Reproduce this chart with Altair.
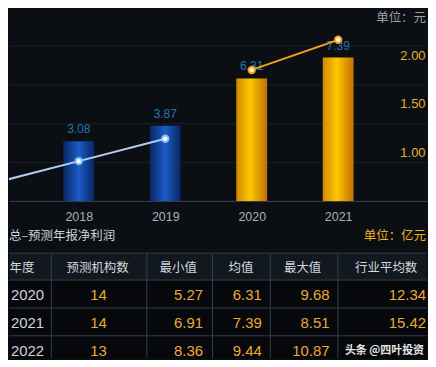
import altair as alt
import pandas as pd

# ---------------- data ----------------
years = [2017, 2018, 2019, 2020, 2021]
net_profit = [2.10, 3.08, 3.87, 6.31, 7.39]      # 亿元 (bars)
eps = [0.68, 0.91, 1.14, 1.85, 2.16]             # 元 (line)
period = ["实际", "实际", "实际", "预测", "预测"]
axis_years = [2018, 2019, 2020, 2021]
eps_ticks = [1.00, 1.50, 2.00]
profit_grid = [2, 4, 6, 8]

chart_unit = ["单位：元"]
table_title = ["总–预测年报净利润"]
table_unit = ["单位：亿元"]
header = ["年度", "预测机构数", "最小值", "均值", "最大值", "行业平均数"]
t_year = ["2020", "2021", "2022"]
t_count = [14, 14, 13]
t_min = [5.27, 6.91, 8.36]
t_mean = [6.31, 7.39, 9.44]
t_max = [9.68, 8.51, 10.87]
t_industry = [12.34, 15.42, None]
watermark = ["头条 @四叶投资"]

# ---------------- layout ----------------
W, H1, H2 = 420, 193, 158
X_DOMAIN = [2017.2506, 2021.9697]
PROFIT_DOMAIN = [0, 9.897]
EPS_DOMAIN = [0.5, 2.4795]
ROW_EDGES = [52.5, 79.5, 107.5, 135.5]
BODY_END = H2
COL_EDGES = [42.5, 138.5, 204.5, 262.5, 330.5]
HEADER_X = [13, 89, 170, 233, 295, 379]
YEAR_X = 2
COUNT_X = 90
NUM_RIGHT_X = [195, 254, 322, 419]
HEADER_Y = 67
ROW_Y = [94.5, 122.5, 150.5]

FONT = "Liberation Sans, Noto Sans CJK SC, sans-serif"
CJK = "Noto Sans CJK SC, sans-serif"
BG = "#0b0f14"
GOLD_TXT = "#eaa835"

# ---------------- panel 1 : bars + line ----------------
df = pd.DataFrame({"year": years, "profit": net_profit, "eps": eps, "period": period})
base = alt.Chart(df)

xenc = alt.X(
    "year:Q",
    scale=alt.Scale(domain=X_DOMAIN, nice=False, zero=False),
    axis=alt.Axis(values=axis_years, format="d", grid=False, ticks=False,
                  domainColor="#38424d", domainWidth=1, labelColor="#a7b1bb",
                  labelFont=FONT, labelFontSize=12.5, labelPadding=10, title=None),
)
yp = alt.Y(
    "profit:Q",
    scale=alt.Scale(domain=PROFIT_DOMAIN, nice=False, zero=True),
    axis=alt.Axis(orient="left", values=profit_grid, grid=True, gridColor="#1a2029",
                  labels=False, ticks=False, domain=False, title=None),
)
ye = alt.Y(
    "eps:Q",
    scale=alt.Scale(domain=EPS_DOMAIN, nice=False, zero=False),
    axis=alt.Axis(orient="right", values=eps_ticks, format=".2f", labelColor="#e4b227",
                  labelFont=FONT, labelFontSize=13, labelAlign="right", labelBaseline="middle",
                  offset=-2, labelPadding=0, ticks=False, domain=False, grid=False, title=None),
)

blue = alt.Gradient(gradient="linear", x1=0, x2=1, y1=0, y2=0, stops=[
    alt.GradientStop(offset=0, color="#0a2562"),
    alt.GradientStop(offset=0.5, color="#1b5dc8"),
    alt.GradientStop(offset=1, color="#0a2562"),
])
gold = alt.Gradient(gradient="linear", x1=0, x2=1, y1=0, y2=0, stops=[
    alt.GradientStop(offset=0, color="#d08800"),
    alt.GradientStop(offset=0.45, color="#ffc800"),
    alt.GradientStop(offset=1, color="#c07000"),
])

hist = base.transform_filter("datum.period == '实际'")
fc = base.transform_filter("datum.period == '预测'")

bars_hist = hist.mark_bar(size=31, clip=True, color=blue).encode(x=xenc, y=yp)
bars_fc = fc.mark_bar(size=31, clip=True, color=gold).encode(x=xenc, y=yp)
bar_labels = base.transform_filter(f"datum.year >= {axis_years[0]}").mark_text(
    clip=True, dy=-8, baseline="alphabetic", color="#2676ad", font=FONT, fontSize=12
).encode(x=xenc, y=yp, text=alt.Text("profit:Q", format=".2f"))

line_hist = hist.mark_line(clip=True, color="#b3cff2", strokeWidth=2).encode(x=xenc, y=ye)
line_fc = fc.mark_line(clip=True, color="#f2a31e", strokeWidth=2).encode(x=xenc, y=ye)
pts_hist = hist.mark_point(shape="circle", filled=True, clip=True, size=42, fill="#ffffff",
                           stroke="#8ab8f5", strokeWidth=2, opacity=1).encode(x=xenc, y=ye)
pts_fc = fc.mark_point(shape="circle", filled=True, clip=True, size=42, fill="#fff6dc",
                       stroke="#f2a31e", strokeWidth=2, opacity=1).encode(x=xenc, y=ye)

unit_txt = alt.Chart(pd.DataFrame({"t": chart_unit})).mark_text(
    clip=True, align="right", baseline="middle", color="#9a9fa5", font=CJK, fontSize=12.5
).encode(text="t:N", x=alt.value(419), y=alt.value(9))

bars_layer = alt.layer(bars_hist, bars_fc, bar_labels)
line_layer = alt.layer(line_hist, line_fc, pts_hist, pts_fc, unit_txt)
p1 = alt.layer(bars_layer, line_layer).resolve_scale(y="independent").properties(width=W, height=H1)

# ---------------- panel 2 : table ----------------
tx = alt.Scale(domain=[0, W], nice=False, zero=False)
ty = alt.Scale(domain=[0, H2], nice=False, zero=False, reverse=True)

rects = pd.DataFrame({
    "x": [0, 0], "x2": [W, W],
    "y": [ROW_EDGES[0], ROW_EDGES[0]],
    "y2": [BODY_END, ROW_EDGES[1]],
    "part": ["body", "head"],
})
rect_layer = alt.Chart(rects).mark_rect().encode(
    x=alt.X("x:Q", scale=tx, axis=None), x2="x2:Q",
    y=alt.Y("y:Q", scale=ty, axis=None), y2="y2:Q",
    color=alt.Color("part:N", scale=alt.Scale(domain=["body", "head"],
                                              range=["#06080b", "#111820"]), legend=None),
)

hl = pd.DataFrame({"x": [0] * len(ROW_EDGES), "x2": [W] * len(ROW_EDGES), "y": ROW_EDGES, "y2": ROW_EDGES})
vl = pd.DataFrame({"x": COL_EDGES, "x2": COL_EDGES, "y": [ROW_EDGES[0]] * len(COL_EDGES),
                   "y2": [BODY_END] * len(COL_EDGES)})
rules = alt.Chart(pd.concat([hl, vl])).mark_rule(color="#353f4b", strokeWidth=1).encode(
    x=alt.X("x:Q", scale=tx, axis=None), x2="x2:Q",
    y=alt.Y("y:Q", scale=ty, axis=None), y2="y2:Q",
)

def txt(frame, **kw):
    return alt.Chart(frame).mark_text(baseline="middle", clip=True, **kw).encode(
        x=alt.X("x:Q", scale=tx, axis=None), y=alt.Y("y:Q", scale=ty, axis=None), text="t:N")

head_df = pd.DataFrame({"t": header, "x": HEADER_X, "y": [HEADER_Y] * len(header)})
year_df = pd.DataFrame({"t": t_year, "x": [YEAR_X] * 3, "y": ROW_Y})
count_df = pd.DataFrame({"t": [str(c) for c in t_count], "x": [COUNT_X] * 3, "y": ROW_Y})
num_rows = []
for col, xr in zip([t_min, t_mean, t_max, t_industry], NUM_RIGHT_X):
    for v, yy in zip(col, ROW_Y):
        if v is not None:
            num_rows.append({"t": f"{v:.2f}", "x": xr, "y": yy})
num_df = pd.DataFrame(num_rows)

title_df = pd.DataFrame({"t": table_title, "x": [0], "y": [35]})
tunit_df = pd.DataFrame({"t": table_unit, "x": [419], "y": [35]})
wm_df = pd.DataFrame({"t": watermark, "x": [417], "y": [ROW_Y[2]]})

p2 = alt.layer(
    rect_layer,
    rules,
    txt(head_df, align="center", color="#d4d7db", font=CJK, fontSize=12.5),
    txt(year_df, align="left", color="#cfd2d6", font=FONT, fontSize=15),
    txt(count_df, align="center", color=GOLD_TXT, font=FONT, fontSize=15),
    txt(num_df, align="right", color=GOLD_TXT, font=FONT, fontSize=15),
    txt(title_df, align="left", color="#d0d3d6", font=CJK, fontSize=12.5),
    txt(tunit_df, align="right", color="#efb21e", font=CJK, fontSize=12.5),
    txt(wm_df, align="right", color="#e6e6e6", font=CJK, fontSize=11, fontWeight="bold"),
).properties(width=W, height=H2)

chart = alt.vconcat(p1, p2, spacing=0, bounds="flush").properties(
    background=BG, padding=0
).configure_view(stroke=None)

chart.save("out.html", embed_options={"renderer": "svg", "actions": False})
